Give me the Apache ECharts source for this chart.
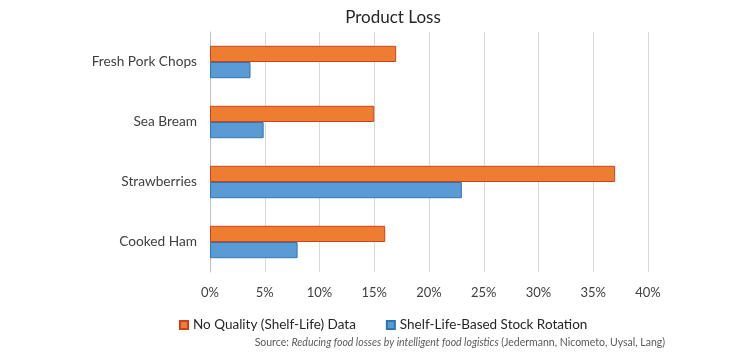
<!DOCTYPE html>
<html><head><meta charset="utf-8">
<script src="https://cdn.jsdelivr.net/npm/echarts@6/dist/echarts.min.js"></script>
<style>html,body{margin:0;padding:0;background:#fff}#c{width:748px;height:358px}</style>
</head><body><div id="c"></div>
<script>
const categories = ['Cooked Ham', 'Strawberries', 'Sea Bream', 'Fresh Pork Chops'];
const noQuality = [16, 37, 15, 17];
const shelfLife = [8, 23, 4.9, 3.7];
const xTicks = [0, 5, 10, 15, 20, 25, 30, 35, 40];
const seriesNames = ['No Quality (Shelf-Life) Data', 'Shelf-Life-Based Stock Rotation'];
const font = 'Lato';
const chart = echarts.init(document.getElementById('c'));
chart.setOption({
  animation: false,
  title: { text: 'Product Loss', left: 388, textAlign: 'center', top: 4,
    textStyle: { fontFamily: font, fontSize: 17, fontWeight: 'normal', color: '#262626' } },
  grid: { left: 210, right: 100, top: 32, bottom: 86 },
  legend: { data: seriesNames, left: 174, top: 313, itemWidth: 8, itemHeight: 8, itemGap: 30, icon: 'rect',
    textStyle: { fontFamily: font, fontSize: 13.5, color: '#262626' } },
  xAxis: { type: 'value', min: xTicks[0], max: xTicks[xTicks.length - 1], interval: 5,
    axisLabel: { formatter: v => v + '%', fontFamily: font, fontSize: 13, color: '#404040', margin: 14 },
    splitLine: { lineStyle: { color: '#d9d9d9', width: 1 } },
    axisLine: { show: false }, axisTick: { show: false } },
  yAxis: { type: 'category', data: categories,
    axisLabel: { fontFamily: font, fontSize: 13.7, color: '#404040', margin: 13 },
    axisLine: { lineStyle: { color: '#bfbfbf' } }, axisTick: { show: false } },
  series: [
    { name: seriesNames[0], type: 'bar', data: noQuality, barCategoryGap: '46%', barGap: '0%',
      itemStyle: { color: '#ED7D31', borderColor: '#D0401B', borderWidth: 1 } },
    { name: seriesNames[1], type: 'bar', data: shelfLife, barCategoryGap: '46%', barGap: '0%',
      itemStyle: { color: '#5B9BD5', borderColor: '#2E75B6', borderWidth: 1 } }
  ],
  graphic: [{ type: 'text', right: 83, top: 337,
    style: { text: '{n|Source: }{i|Reducing food losses by intelligent food logistics}{n| (Jedermann, Nicometo, Uysal, Lang)}',
      rich: { n: { fontFamily: font, fontSize: 10.5, fill: '#595959' },
              i: { fontFamily: font, fontSize: 10.5, fontStyle: 'italic', fill: '#595959' } } } }]
});
</script></body></html>
